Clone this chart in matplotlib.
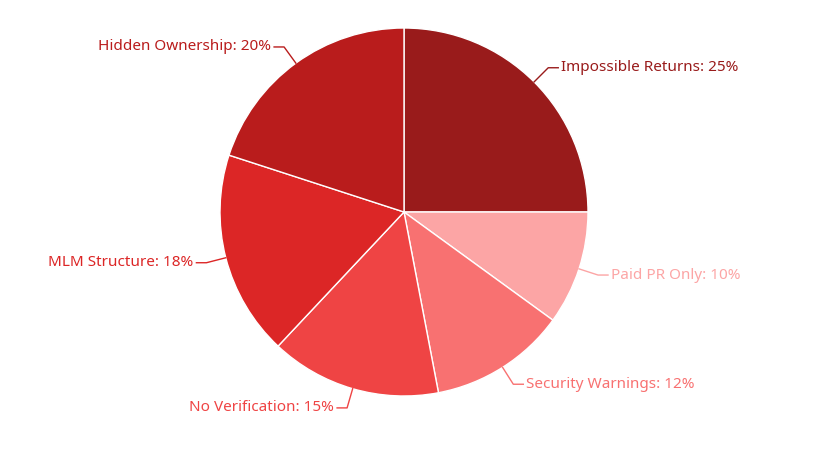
import numpy as np
import matplotlib
matplotlib.use("Agg")
import matplotlib.pyplot as plt

labels = ["Impossible Returns", "Paid PR Only", "Security Warnings",
          "No Verification", "MLM Structure", "Hidden Ownership"]
values = [25, 10, 12, 15, 18, 20]
colors = ["#991b1b", "#fca5a5", "#f87171", "#ef4444", "#dc2626", "#b91c1c"]

plt.rcParams['font.family'] = ['Noto Sans', 'DejaVu Sans']

W, H = 826, 458
fig = plt.figure(figsize=(W / 100, H / 100), dpi=100)
ax = fig.add_axes([0, 0, 1, 1])
ax.set_xlim(0, W)
ax.set_ylim(0, H)
ax.axis("off")

cx, cy, r = 404, H - 212, 184
wedges, _ = ax.pie(values, colors=colors, startangle=90, counterclock=False,
                   center=(cx, cy), radius=r, frame=True,
                   wedgeprops=dict(edgecolor="white", linewidth=1))
ax.set_xlim(0, W)
ax.set_ylim(0, H)
ax.set_aspect("equal")
ax.axis("off")

for w, lab, v, c in zip(wedges, labels, values, colors):
    ang = np.deg2rad((w.theta1 + w.theta2) / 2)
    x0, y0 = cx + r * np.cos(ang), cy + r * np.sin(ang)
    x1, y1 = cx + (r + 20) * np.cos(ang), cy + (r + 20) * np.sin(ang)
    side = 1 if np.cos(ang) >= 0 else -1
    x2 = x1 + side * 10
    ax.plot([x0, x1, x2], [y0, y1, y1], color=c, lw=1)
    ax.text(x2 + side * 3, y1, f"{lab}: {v}%", color=c, fontsize=11,
            ha="left" if side > 0 else "right", va="center")

fig.savefig("out.png", dpi=100)
